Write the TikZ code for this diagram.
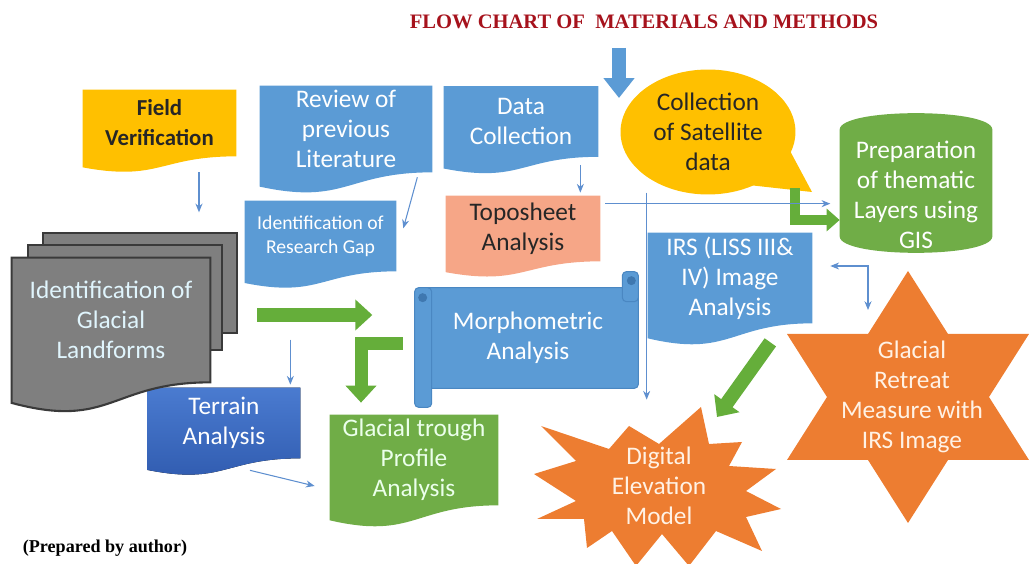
\documentclass[tikz,border=0pt]{standalone}
\usepackage{fontspec}
\setmainfont{Carlito}
\newfontfamily\serifbold{Liberation Serif}
\usetikzlibrary{positioning,calc,arrows.meta,shapes.callouts,backgrounds}

\definecolor{officeblue}{HTML}{5B9BD5}
\definecolor{blueedge}{HTML}{4A87C2}
\definecolor{curlblue}{HTML}{3F78B0}
\definecolor{deepblue}{HTML}{4A7BD0}
\definecolor{deepblue2}{HTML}{2F5AAE}
\definecolor{amber}{HTML}{FFC000}
\definecolor{salmon}{HTML}{F6A687}
\definecolor{leaf}{HTML}{70AD47}
\definecolor{arrowgreen}{HTML}{65AE3A}
\definecolor{slate}{HTML}{7F7F7F}
\definecolor{slateedge}{HTML}{3A3A3A}
\definecolor{flame}{HTML}{ED7D31}
\definecolor{linkblue}{HTML}{5E8FCF}
\definecolor{darktext}{HTML}{262626}
\definecolor{titlered}{HTML}{A6121C}

\tikzset{
  doc/.style={align=center, inner sep=0pt, text=white,
    font=\fontsize{14.4}{17}\selectfont},          % text block of a document shape
  darkdoc/.style={doc, text=darktext},
  link/.style={draw=linkblue, line width=0.6pt,
    -{Stealth[length=5pt,width=4pt]}},             % thin connectors
  fatgreen/.style={draw=arrowgreen, line width=0.28cm,
    -{Triangle[width=0.6cm,length=0.34cm]}},       % block arrows
  fatblue/.style={draw=officeblue, line width=0.28cm,
    -{Triangle[width=0.6cm,length=0.4cm]}},
  pagefill/.style={fill=slate, draw=slateedge, line width=1.2pt},
  scroll/.style={fill=officeblue, draw=blueedge, line width=0.6pt, rounded corners=0.08cm},
}

% document shape with a wavy lower edge under node #1
\newcommand\docfill[2]{%
  \fill[#2] let \p1=(#1.north), \p2=(#1.south), \n1={\y1-\y2} in
    (#1.north west) -- (#1.north east) -- (#1.south east)
    .. controls (#1.south) and ($(#1.south)+(0pt,-0.38*\n1)$)
    .. ($(#1.south west)+(0pt,-0.165*\n1)$) -- cycle;}

\begin{document}
\begin{tikzpicture}[x=0.02cm, y=-0.02cm]
  \useasboundingbox (0,0) rectangle (1029,564);

  \node[text=titlered, font=\serifbold\bfseries\fontsize{11.7}{14}\selectfont] (title) at (644,22)
    {FLOW CHART OF\ \ MATERIALS AND METHODS};
  \node[font=\serifbold\bfseries\fontsize{10.3}{12}\selectfont, inner sep=0pt] (note) at (105,548)
    {(Prepared by author)};

  % top row
  \node[darkdoc, font=\bfseries\fontsize{13}{17}\selectfont, minimum width=3.06cm, minimum height=1.32cm] (fv) at (159.5,123) {Field\\Verification};
  \node[doc, minimum width=3.44cm, minimum height=1.72cm] (review) at (346,129) {Review of\\previous\\Literature};
  \node[doc, minimum width=3.08cm, minimum height=1.4cm] (dc) at (521,121.5) {Data\\Collection};
  \node[ellipse callout, fill=amber, text=darktext, align=center, inner sep=0pt,
        font=\fontsize{14.4}{17}\selectfont, minimum width=3.5cm, minimum height=2.5cm,
        callout pointer arc=40, callout absolute pointer={(812,192)}] (sat) at (708,132)
    {Collection\\of Satellite\\data};
  \node[doc, minimum width=3.04cm, minimum height=2.6cm] (gis) at (916,195) {Preparation\\of thematic\\Layers using\\GIS};

  % middle row
  \node[darkdoc, minimum width=3.08cm, minimum height=1.3cm] (topo) at (523,228.5) {Toposheet\\Analysis};
  \node[doc, font=\fontsize{11.2}{13.6}\selectfont, minimum width=3.02cm, minimum height=1.4cm] (gap) at (320.5,236) {Identification of\\Research Gap};
  \node[doc, minimum width=3.28cm, minimum height=1.8cm] (irs) at (730,278) {IRS (LISS III\&\\IV) Image\\Analysis};
  \node[doc, text=cyan!12!white, minimum width=3.96cm, minimum height=2.48cm] (lf) at (111,320) {Identification of\\Glacial\\Landforms};
  \node[doc, minimum width=4.4cm, minimum height=2cm] (morph) at (528,338) {Morphometric\\Analysis};

  % bottom row
  \node[doc, minimum width=3.04cm, minimum height=1.4cm] (terrain) at (224,423) {Terrain\\Analysis};
  \node[doc, text=green!8!white, minimum width=3.36cm, minimum height=1.8cm] (trough) at (414,460) {Glacial trough\\Profile\\Analysis};
  \node[doc, text=orange!10!white] (dem) at (659,486) {Digital\\Elevation\\Model};
  \node[doc, text=orange!10!white] (retreat) at (912,397) {Glacial\\Retreat\\Measure with\\IRS Image};

  \begin{scope}[on background layer]
    \docfill{fv}{amber}
    \docfill{review}{officeblue}
    \docfill{dc}{officeblue}
    \docfill{topo}{salmon}
    \docfill{gap}{officeblue}
    \docfill{irs}{officeblue}
    \docfill{terrain}{top color=deepblue, bottom color=deepblue2}
    \docfill{trough}{leaf}
    % stacked pages
    \filldraw[pagefill] ($(lf.north west)+(31,-25)$) rectangle ($(lf.north east)+(27,75)$);
    \filldraw[pagefill] ($(lf.north west)+(16,-13)$) rectangle ($(lf.north east)+(12,92)$);
    \docfill{lf}{pagefill}
    % can
    \fill[leaf] (gis.north west) .. controls +(0,-22) and +(0,-22) .. (gis.north east)
      -- ($(gis.south east)+(0,-24)$) .. controls +(0,22) and +(0,22) .. ($(gis.south west)+(0,-24)$) -- cycle;
    % scroll
    \fill[scroll] (morph.north west) rectangle (morph.south east);
    \fill[scroll] ($(morph.north west)+(-3,0)$) rectangle ($(morph.south west)+(14,19)$);
    \fill[scroll] ($(morph.north east)+(-16,-16)$) rectangle ($(morph.north east)+(0,14)$);
    \fill[curlblue] ($(morph.north west)+(5,10)$) circle (0.09cm);
    \fill[curlblue] ($(morph.north east)+(-7,-7)$) circle (0.09cm);
    % starburst
    \begin{scope}[shift={(dem.center)}]
      \fill[flame] (42,-79) -- (50,-42) -- (83,-44) -- (70,-20) -- (117,-17) -- (87,5)
        -- (122,23) -- (87,31) -- (103,65) -- (57,45) -- (30,80) -- (3,48) -- (-23,80)
        -- (-47,45) -- (-72,62) -- (-75,33) -- (-122,33) -- (-83,15) -- (-125,-12)
        -- (-83,-25) -- (-118,-60) -- (-50,-37) -- (-30,-60) -- (0,-42) -- cycle;
    \end{scope}
    % six pointed star
    \begin{scope}[shift={(retreat.center)}, xshift=-4*0.02cm]
      \fill[flame] (0,-126) -- (40,-63) -- (121,-63) -- (81,0) -- (121,63) -- (40,63)
        -- (0,126) -- (-40,63) -- (-121,63) -- (-81,0) -- (-121,-63) -- (-40,-63) -- cycle;
    \end{scope}
  \end{scope}

  % block arrows
  \coordinate (drop) at (619,48);
  \draw[fatblue] (drop) -- ++(0,50);
  \draw[fatgreen] ($(lf.east)+(47,-5)$) -- ++(115,0);
  \draw[fatgreen, line width=0.26cm] ($(morph.west)+(-15,6)$) -| ($(trough.north)+(-53,-12)$);
  \draw[fatgreen] ($(irs.south east)+(-42,19)$) -- ($(dem.center)+(58,-69)$);
  \draw[fatgreen, line width=0.2cm, -{Triangle[width=0.44cm,length=0.26cm]}]
    ($(sat.pointer)+(-18,-4)$) |- ($(gis.west)+(0,25)$);

  % thin connectors
  \draw[link] ([xshift=0.79cm]fv.south) ++(0,16) -- ++(0,40);
  \draw[link] ($(review.south east)+(-15,5)$) -- ($(review.south east)+(-29,56)$);
  \draw[link] ($(dc.south east)+(-18,8)$) -- ($(topo.north east)+(-20,-3)$);
  \draw[link] ($(topo.north east)+(5,8)$) -- ++(225,0);
  \draw[link] ($(irs.north west)+(-1,-40)$) -- ++(0,207);
  \draw[link] ($(terrain.north east)+(-10,-48)$) -- ($(terrain.north east)+(-10,-3)$);
  \draw[link] ($(terrain.south)+(26,12)$) -- ($(trough.west)+(-15,26)$);
  \draw[link, {Stealth[length=5pt,width=4pt]}-{Stealth[length=5pt,width=4pt]}]
    ($(irs.east)+(18,-12)$) -| ($(retreat.center)+(-44,-87)$);
\end{tikzpicture}
\end{document}
